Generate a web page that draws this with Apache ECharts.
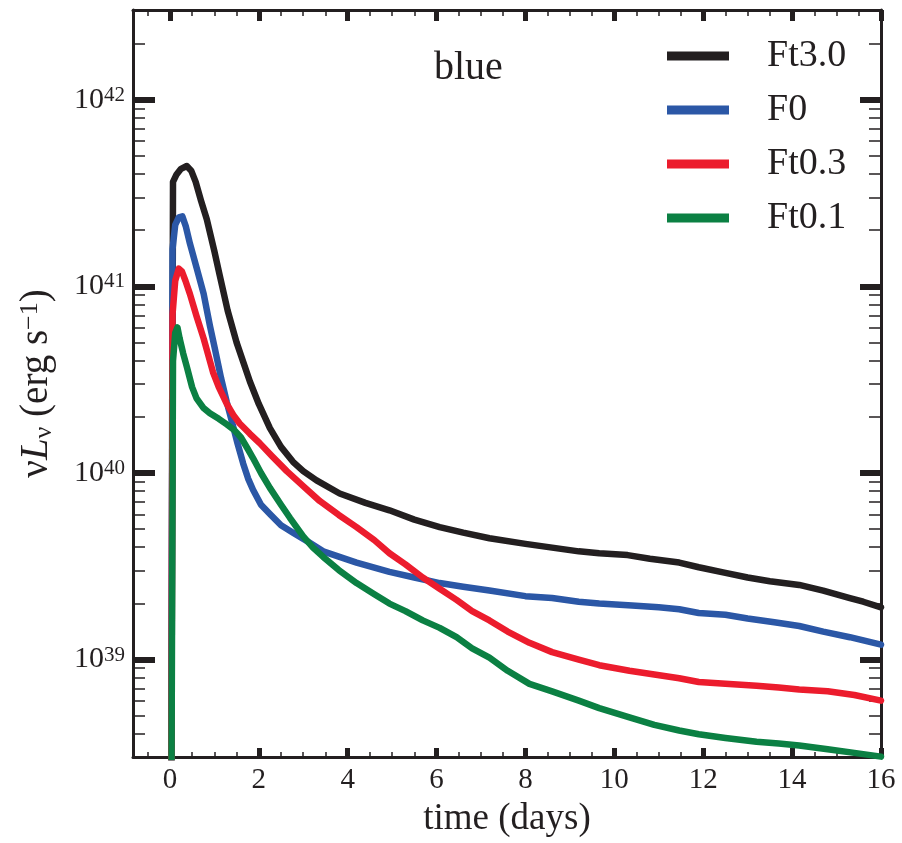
<!DOCTYPE html>
<html lang="en">
<head>
<meta charset="UTF-8">
<title>blue</title>
<style>
    *{
        margin: 0;
        padding: 0;
    }
    body{
        background-color: #fff;
    }
    #chart{
        width: 902px;
        height: 843px;
    }
</style>
</head>
<body>
<div id="chart"></div>
<script src="https://cdn.jsdelivr.net/npm/echarts@6/dist/echarts.min.js"></script>
<script type="text/javascript">
    // 数据：时间(天) 和 log10(νLν / erg s^-1)
    var seriesNames = ['Ft3.0', 'F0', 'Ft0.3', 'Ft0.1']
    var seriesColors = ['#231f20', '#2b57a6', '#ec1c2d', '#0b8043']

    var tFt30 = [0.03, 0.07, 0.15, 0.25, 0.38, 0.48, 0.58, 0.7, 0.83, 1.0, 1.12, 1.3, 1.5, 1.8, 2.0, 2.25, 2.5, 2.77, 3.0, 3.3, 3.82, 4.4, 4.94, 5.5, 6.07, 6.6, 7.19, 8.0, 8.6, 9.2, 9.66, 10.3, 10.8, 11.46, 11.9, 12.5, 13.0, 13.5, 14.16, 14.7, 15.3, 15.6, 16.0]
    var lFt30 = [38.0, 41.56, 41.60, 41.63, 41.645, 41.62, 41.56, 41.46, 41.36, 41.19, 41.06, 40.87, 40.70, 40.49, 40.37, 40.24, 40.14, 40.06, 40.01, 39.96, 39.89, 39.84, 39.80, 39.75, 39.71, 39.68, 39.65, 39.62, 39.60, 39.58, 39.57, 39.56, 39.54, 39.52, 39.495, 39.465, 39.44, 39.42, 39.40, 39.37, 39.33, 39.31, 39.28]

    var tF0 = [0.03, 0.06, 0.12, 0.2, 0.28, 0.36, 0.45, 0.6, 0.76, 0.9, 1.0, 1.15, 1.28, 1.39, 1.52, 1.65, 1.76, 1.87, 2.05, 2.25, 2.5, 2.77, 3.05, 3.45, 4.2, 4.94, 5.5, 6.07, 6.6, 7.19, 8.0, 8.6, 9.2, 9.66, 10.4, 11.0, 11.46, 11.9, 12.5, 13.0, 13.6, 14.16, 14.7, 15.3, 16.0]
    var lF0 = [38.0, 41.2, 41.33, 41.37, 41.375, 41.32, 41.23, 41.1, 40.96, 40.79, 40.68, 40.51, 40.38, 40.28, 40.16, 40.05, 39.97, 39.91, 39.83, 39.78, 39.72, 39.68, 39.64, 39.58, 39.52, 39.47, 39.44, 39.41, 39.39, 39.37, 39.34, 39.33, 39.31, 39.30, 39.29, 39.28, 39.27, 39.25, 39.24, 39.22, 39.20, 39.18, 39.15, 39.12, 39.08]

    var tFt03 = [0.03, 0.06, 0.12, 0.2, 0.27, 0.35, 0.45, 0.6, 0.76, 0.97, 1.1, 1.28, 1.43, 1.57, 1.8, 2.02, 2.3, 2.63, 3.0, 3.37, 3.8, 4.2, 4.6, 4.94, 5.3, 5.69, 6.07, 6.45, 6.8, 7.19, 7.6, 8.09, 8.6, 9.2, 9.66, 10.34, 10.9, 11.46, 11.9, 12.5, 13.2, 13.7, 14.16, 14.8, 15.4, 16.0]
    var lFt03 = [38.0, 40.85, 41.03, 41.095, 41.08, 41.03, 40.96, 40.84, 40.72, 40.54, 40.46, 40.37, 40.31, 40.265, 40.21, 40.16, 40.09, 40.01, 39.93, 39.85, 39.775, 39.71, 39.64, 39.57, 39.51, 39.44, 39.38, 39.32, 39.26, 39.21, 39.15, 39.09, 39.04, 39.0, 38.97, 38.94, 38.92, 38.90, 38.88, 38.87, 38.86, 38.85, 38.84, 38.83, 38.81, 38.78]

    var tFt01 = [0.03, 0.07, 0.12, 0.17, 0.22, 0.3, 0.38, 0.5, 0.6, 0.75, 0.9, 1.1, 1.28, 1.45, 1.6, 1.75, 1.87, 2.05, 2.25, 2.5, 2.7, 3.0, 3.22, 3.45, 3.8, 4.2, 4.6, 4.94, 5.3, 5.69, 6.07, 6.45, 6.8, 7.19, 7.6, 8.09, 8.6, 9.2, 9.66, 10.34, 10.9, 11.46, 11.9, 12.5, 13.2, 13.7, 14.16, 14.8, 15.4, 16.0]
    var lFt01 = [38.0, 40.6, 40.75, 40.78, 40.72, 40.64, 40.57, 40.46, 40.40, 40.35, 40.32, 40.29, 40.26, 40.23, 40.19, 40.13, 40.08, 40.0, 39.92, 39.83, 39.76, 39.66, 39.60, 39.55, 39.48, 39.41, 39.35, 39.30, 39.26, 39.21, 39.17, 39.12, 39.06, 39.01, 38.94, 38.87, 38.83, 38.78, 38.74, 38.69, 38.65, 38.62, 38.60, 38.58, 38.56, 38.55, 38.54, 38.52, 38.50, 38.48]

    // 刻度
    var xMajor = [0, 2, 4, 6, 8, 10, 12, 14, 16]
    var xMinor = [-0.5, 0.5, 1, 1.5, 2.5, 3, 3.5, 4.5, 5, 5.5, 6.5, 7, 7.5, 8.5, 9, 9.5, 10.5, 11, 11.5, 12.5, 13, 13.5, 14.5, 15, 15.5]
    var yDecades = [39, 40, 41, 42]
    var yMinorMantissa = [2, 3, 4, 5, 6, 7, 8, 9]

    var xMin = -0.83, xMax = 16
    var yMin = 38.478, yMax = 42.481

    var yMinor = []
    ;[38, 39, 40, 41, 42].forEach(function (d) {
        yMinorMantissa.forEach(function (m) {
            var v = d + Math.log10(m)
            if (v > yMin && v < yMax) yMinor.push(v)
        })
    })

    var font = 'Liberation Serif'
    var ink = '#231f20'

    function zip(ts, ls) {
        return ts.map(function (t, i) { return [t, ls[i]] })
    }

    function xAx(pos, ticks, len, w, withLine) {
        return {
            type: 'value', position: pos, min: xMin, max: xMax,
            axisLine: { show: withLine, onZero: false, lineStyle: { color: ink, width: 3 } },
            axisTick: { show: true, inside: true, customValues: ticks, length: len, lineStyle: { color: ink, width: w } },
            axisLabel: { show: false },
            splitLine: { show: false }
        }
    }
    function yAx(pos, ticks, len, w, withLine) {
        return {
            type: 'value', position: pos, min: yMin, max: yMax,
            axisLine: { show: withLine, onZero: false, lineStyle: { color: ink, width: 3 } },
            axisTick: { show: true, inside: true, customValues: ticks, length: len, lineStyle: { color: ink, width: w } },
            axisLabel: { show: false },
            splitLine: { show: false }
        }
    }

    var xAxes = [
        xAx('bottom', xMajor, 9, 5, true),
        xAx('bottom', xMinor, 5, 1.5, false),
        xAx('top', xMajor, 11, 5, true),
        xAx('top', xMinor, 6, 1.5, false)
    ]
    xAxes[0].axisLabel = {
        show: true, customValues: xMajor, margin: 9,
        fontFamily: font, fontSize: 29, color: ink
    }
    xAxes[0].name = 'time (days)'
    xAxes[0].nameLocation = 'middle'
    xAxes[0].nameGap = 44
    xAxes[0].nameTextStyle = { fontFamily: font, fontSize: 37, color: ink }

    var yAxes = [
        yAx('left', yDecades, 22, 6, true),
        yAx('left', yMinor, 12, 1.5, false),
        yAx('right', yDecades, 21, 6, true),
        yAx('right', yMinor, 12, 1.5, false)
    ]
    yAxes[0].axisLabel = {
        show: true, customValues: yDecades, margin: 8,
        formatter: function (v) { return '{n|10}{s|' + Math.round(v) + '}' },
        rich: {
            n: { fontFamily: font, fontSize: 30, color: ink, lineHeight: 30 },
            s: { fontFamily: font, fontSize: 21, color: ink, verticalAlign: 'top', lineHeight: 21 }
        }
    }
    yAxes[0].name = '{a|ν}{i|L}{b|ν}{a| (erg s}{c|−1}{a|)}'
    yAxes[0].nameLocation = 'middle'
    yAxes[0].nameRotate = 90
    yAxes[0].nameGap = 76
    yAxes[0].nameTextStyle = {
        rich: {
            a: { fontFamily: font, fontSize: 39, color: ink, lineHeight: 40 },
            i: { fontFamily: font, fontSize: 39, fontStyle: 'italic', color: ink, lineHeight: 40 },
            b: { fontFamily: font, fontSize: 26, color: ink, verticalAlign: 'bottom', lineHeight: 25 },
            c: { fontFamily: font, fontSize: 26, color: ink, verticalAlign: 'top', lineHeight: 25 }
        }
    }

    var allT = [tFt30, tF0, tFt03, tFt01]
    var allL = [lFt30, lF0, lFt03, lFt01]
    var series = seriesNames.map(function (name, i) {
        return {
            name: name, type: 'line', xAxisIndex: 0, yAxisIndex: 0,
            data: zip(allT[i], allL[i]),
            symbol: 'none', silent: true,
            lineStyle: { color: seriesColors[i], width: 6.5, cap: 'round', join: 'round' },
            itemStyle: { color: seriesColors[i] }
        }
    })

    var chart = echarts.init(document.getElementById('chart'))
    chart.setOption({
        animation: false,
        backgroundColor: '#fff',
        title: {
            text: 'blue', left: 434, top: 48, padding: 0,
            textStyle: { fontFamily: font, fontSize: 40, fontWeight: 'normal', color: ink }
        },
        legend: {
            data: seriesNames, orient: 'vertical', left: 667, top: 36,
            icon: 'rect', itemWidth: 62, itemHeight: 9, itemGap: 14, padding: 0,
            selectedMode: false,
            textStyle: { fontFamily: font, fontSize: 38, color: ink, lineHeight: 40, padding: [0, 0, 0, 33] }
        },
        grid: { left: 133, top: 10, right: 21, bottom: 86, containLabel: false },
        xAxis: xAxes,
        yAxis: yAxes,
        series: series
    })
</script>
</body>
</html>
